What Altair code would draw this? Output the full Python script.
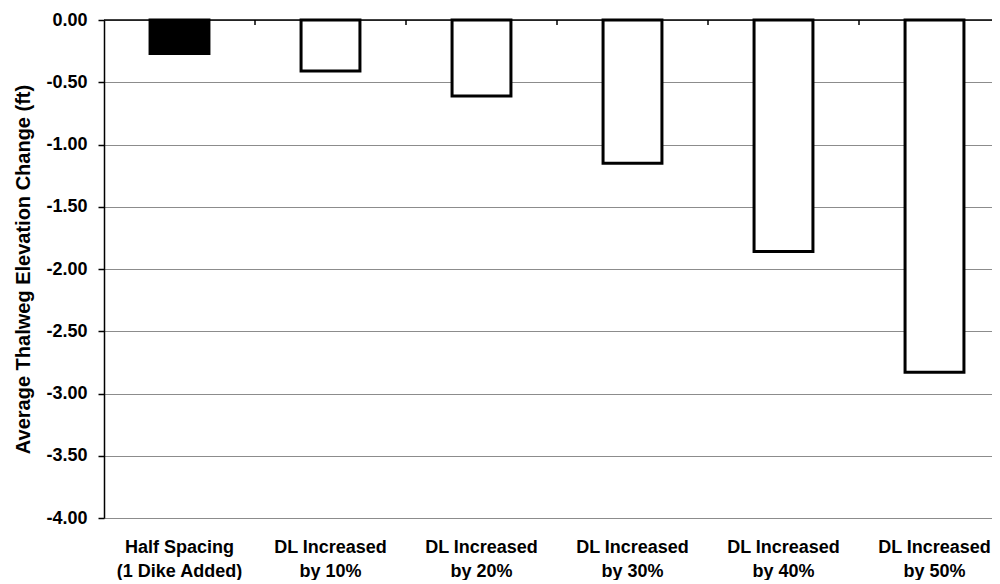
import altair as alt
import pandas as pd

categories = [
    "Half Spacing|(1 Dike Added)",
    "DL Increased|by 10%",
    "DL Increased|by 20%",
    "DL Increased|by 30%",
    "DL Increased|by 40%",
    "DL Increased|by 50%",
]
values = [-0.27, -0.41, -0.61, -1.15, -1.86, -2.83]
groups = ["spacing", "dl", "dl", "dl", "dl", "dl"]
y_ticks = [0.0, -0.5, -1.0, -1.5, -2.0, -2.5, -3.0, -3.5, -4.0]
y_title = "Average Thalweg Elevation Change (ft)"

df = pd.DataFrame({"cat": categories, "val": values, "grp": groups})
bdf = pd.DataFrame({"cat": categories[1:]})
zdf = pd.DataFrame({"y": [0.0]})

FONT = "Liberation Sans"
W, H = 888, 498

xscale = alt.Scale(domain=categories, range=[0, 906], paddingInner=0, paddingOuter=0)
yscale = alt.Scale(domain=[-4, 0], nice=False)

bars = alt.Chart(df).mark_bar(
    stroke="black", strokeWidth=3, width=alt.RelativeBandSize(0.39)
).encode(
    x=alt.X(
        "cat:N", sort=None, scale=xscale,
        axis=alt.Axis(
            title=None, labelExpr="split(datum.value, '|')", labelAngle=0,
            domain=False, ticks=False, tickSize=0, grid=False,
            labelFont=FONT, labelFontSize=18, labelFontWeight="bold",
            labelColor="black", labelPadding=20, labelLineHeight=24,
        ),
    ),
    y=alt.Y(
        "val:Q", scale=yscale,
        axis=alt.Axis(
            values=y_ticks, title=y_title,
            labelExpr="replace(format(datum.value, '.2f'), '\u2212', '-')",
            domain=True, domainColor="black", domainWidth=1.5,
            ticks=True, tickColor="black", tickSize=6, tickWidth=1.5,
            grid=True, gridColor="#8c8c8c", gridWidth=1,
            labelFont=FONT, labelFontSize=18, labelFontWeight="bold",
            labelColor="black", labelPadding=11,
            titleFont=FONT, titleFontSize=20, titleFontWeight="bold",
            titleColor="black", titlePadding=12,
        ),
    ),
    fill=alt.Fill("grp:N", scale=alt.Scale(domain=["spacing", "dl"], range=["black", "white"]), legend=None),
)

zero_line = alt.Chart(zdf).mark_rule(color="black", strokeWidth=1.5).encode(
    y=alt.Y("y:Q", scale=yscale)
)

bticks = alt.Chart(bdf).mark_rule(color="black", strokeWidth=1.5).encode(
    x=alt.X("cat:N", sort=None, scale=xscale, bandPosition=0),
    y=alt.value(0),
    y2=alt.value(5),
)

chart = alt.layer(bars, zero_line, bticks).properties(
    width=W, height=H, autosize="none",
    padding={"left": 96, "top": 12, "right": 0, "bottom": 62},
).configure_view(stroke=None)

chart.save("out.html", embed_options={"renderer": "svg", "actions": False})
